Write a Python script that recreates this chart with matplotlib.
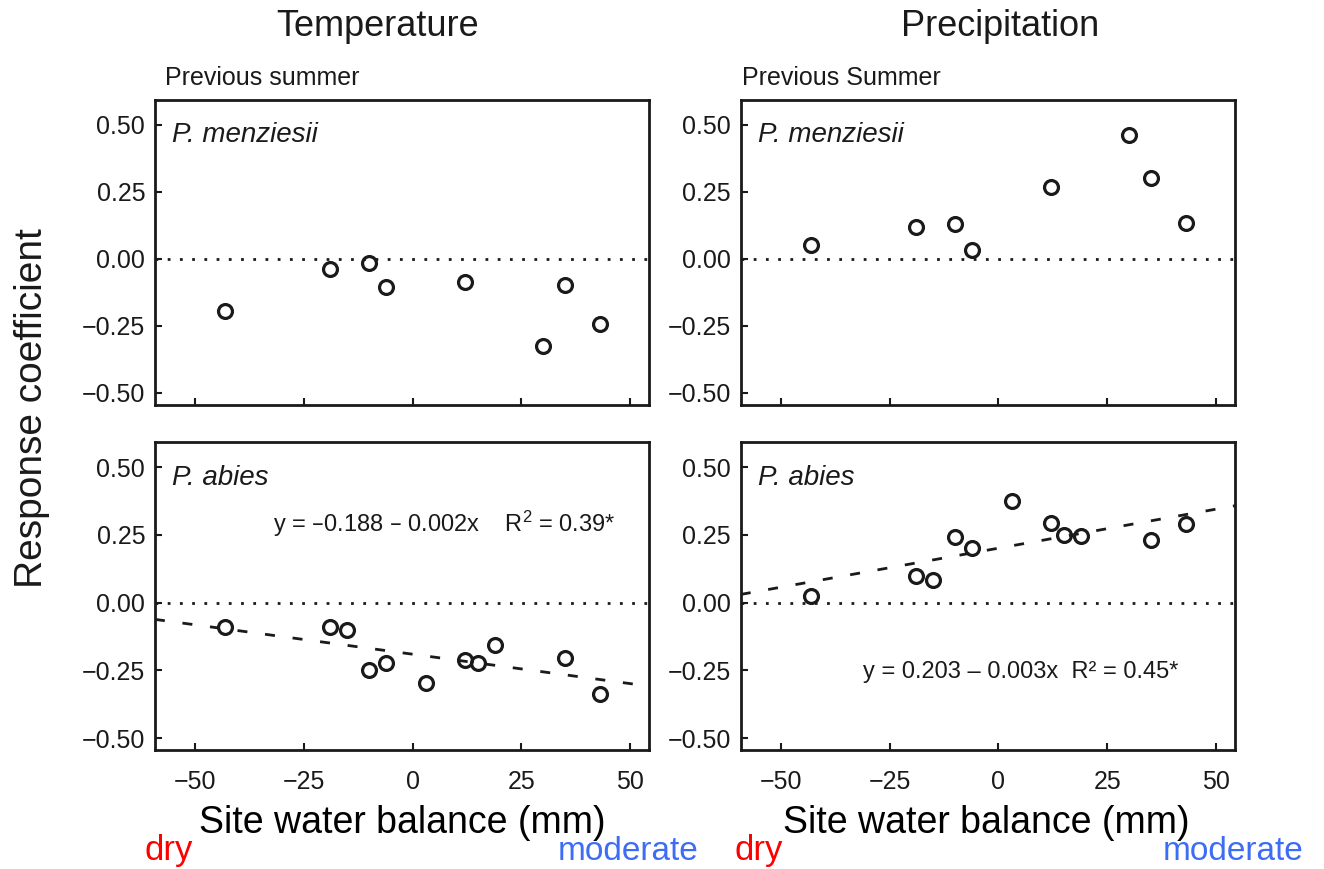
import numpy as np
import matplotlib
matplotlib.use("Agg")
import matplotlib.pyplot as plt

plt.rcParams["font.family"] = ["Liberation Sans", "DejaVu Sans"]
plt.rcParams["mathtext.default"] = "regular"

# site water balance (mm) and response coefficients
menz_x = [-43, -19, -10, -6, 12, 30, 35, 43]
menz_temp = [-0.195, -0.037, -0.015, -0.105, -0.087, -0.325, -0.098, -0.244]
menz_prec = [0.051, 0.119, 0.129, 0.033, 0.268, 0.46, 0.30, 0.132]

abies_x = [-43, -19, -15, -10, -6, 3, 12, 15, 19, 35, 43]
abies_temp = [-0.089, -0.088, -0.100, -0.248, -0.224, -0.297, -0.212, -0.224, -0.156, -0.204, -0.335]
abies_prec = [0.025, 0.097, 0.082, 0.242, 0.203, 0.374, 0.292, 0.249, 0.245, 0.230, 0.289]

# fitted lines as drawn (intercept, slope)
fit_temp = (-0.19, -0.00217)
fit_prec = (0.201, 0.00288)

xticks = [-50, -25, 0, 25, 50]
xtick_labels = ["\u221250", "\u221225", "0", "25", "50"]
yticks = [-0.5, -0.25, 0, 0.25, 0.5]
ytick_labels = ["\u22120.50", "\u22120.25", "0.00", "0.25", "0.50"]

xlim = (-59.2, 54.4)
ylim = (-0.545, 0.592)

fig = plt.figure(figsize=(13.24, 8.69), dpi=100)

lefts = [0.117, 0.5595]
bottoms = [0.5339, 0.1364]
heights = [0.351, 0.3548]
width = 0.3735

panels = [
    (0, 0, menz_x, menz_temp, "P. menziesii", None, None),
    (0, 1, menz_x, menz_prec, "P. menziesii", None, None),
    (1, 0, abies_x, abies_temp, "P. abies", fit_temp,
     "y = \u20130.188 \u2013 0.002x    R$^2$ = 0.39*"),
    (1, 1, abies_x, abies_prec, "P. abies", fit_prec,
     "y = 0.203 \u2013 0.003x  R\u00b2 = 0.45*"),
]
eq_pos = {0: (-32, 0.29), 1: (-31.2, -0.257)}

ink = "#1a1a1a"
for row, col, xs, ys, species, fit, eq in panels:
    ax = fig.add_axes([lefts[col], bottoms[row], width, heights[row]])
    ax.axhline(0, color=ink, lw=2.0, linestyle=(0, (1, 3.4)), zorder=1)
    if fit is not None:
        fx = np.array(xlim)
        ax.plot(fx, fit[0] + fit[1] * fx, color=ink, lw=2.0,
                linestyle=(0, (3.6, 6.4)), zorder=2)
    ax.plot(xs, ys, "o", ms=10, mfc="none", mec=ink, mew=2.3, zorder=3)
    ax.set_xlim(*xlim)
    ax.set_ylim(*ylim)
    ax.set_xticks(xticks)
    ax.set_yticks(yticks)
    ax.set_yticklabels(ytick_labels)
    if row == 1:
        ax.set_xticklabels(xtick_labels)
    else:
        ax.set_xticklabels([])
    ax.tick_params(direction="in", length=5, width=1.5, colors=ink,
                   labelsize=18, pad=7)
    ax.tick_params(axis="x", pad=14)
    for sp in ax.spines.values():
        sp.set_linewidth(2.0)
        sp.set_color(ink)
    ax.text(0.035, 0.885, species, transform=ax.transAxes, fontsize=20,
            style="italic", color=ink, va="center", ha="left")
    if eq is not None:
        ax.text(eq_pos[col][0], eq_pos[col][1], eq, fontsize=17, color=ink,
                ha="left", va="center")

fig.text(0.2855, 0.969, "Temperature", fontsize=26, color=ink, ha="center", va="center")
fig.text(0.7553, 0.969, "Precipitation", fontsize=26, color=ink, ha="center", va="center")
fig.text(0.1246, 0.910, "Previous summer", fontsize=18, color=ink, ha="left", va="center")
fig.text(0.5604, 0.910, "Previous Summer", fontsize=18, color=ink, ha="left", va="center")

fig.text(0.0238, 0.5305, "Response coefficient", fontsize=28, color=ink,
         rotation=90, ha="center", va="center")

for xc in [0.304, 0.7447]:
    fig.text(xc, 0.041, "Site water balance (mm)", fontsize=27, color="black",
             ha="center", va="baseline")

for xd, xm in [(0.1095, 0.4215), (0.555, 0.8784)]:
    fig.text(xd, 0.010, "dry", fontsize=25, color="#ff0000", ha="left", va="baseline")
    fig.text(xm, 0.010, "moderate", fontsize=24, color="#3d6cf5", ha="left", va="baseline")

fig.savefig("out.png", dpi=100)
